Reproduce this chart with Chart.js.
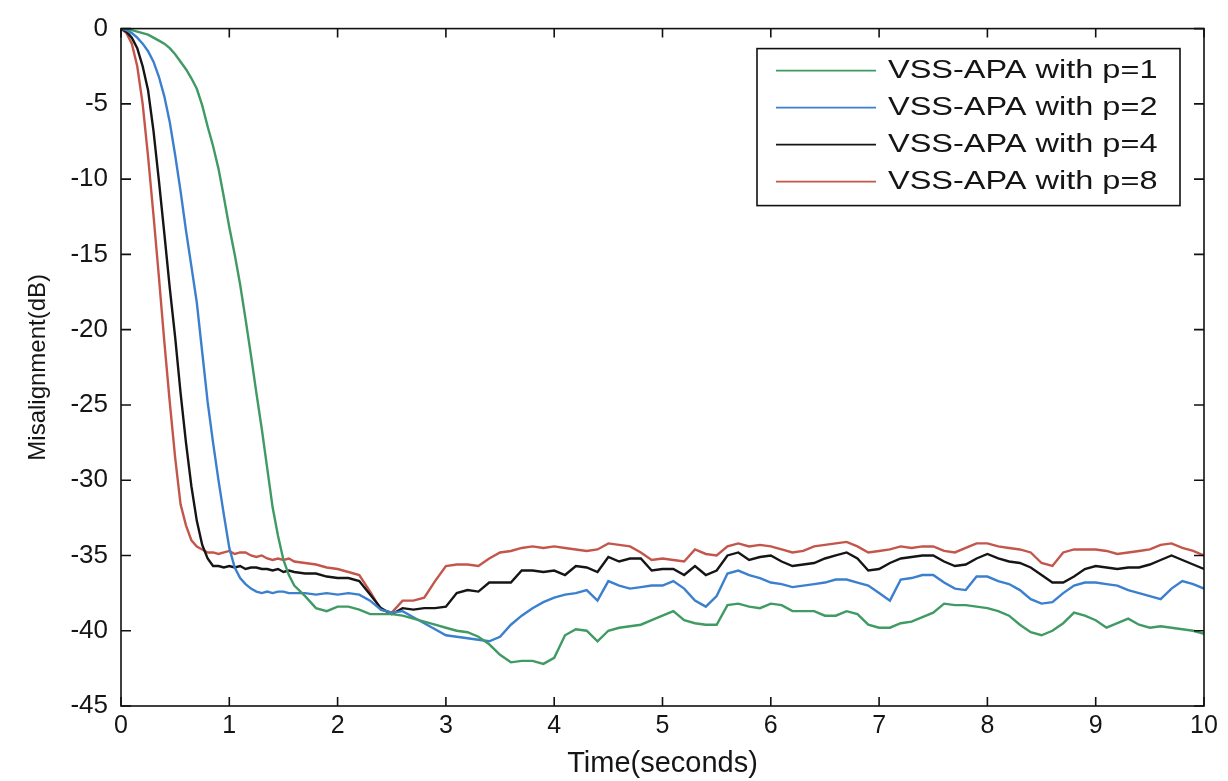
<!DOCTYPE html>
<html>
<head>
<meta charset="utf-8">
<title>Misalignment vs time</title>
<script src="https://cdn.jsdelivr.net/npm/chart.js@4.4.1/dist/chart.umd.min.js"></script>
<style>
  html, body { margin: 0; padding: 0; background: #fff; }
  #wrap { width: 1228px; height: 781px; }
</style>
</head>
<body>
<div id="wrap"><canvas id="chart" width="1228" height="781"></canvas></div>
<script>
// time axis (seconds)
const timeSec = [
  0, 0.05, 0.1, 0.15, 0.2, 0.25, 0.3, 0.35, 0.4, 0.45,
  0.5, 0.55, 0.6, 0.65, 0.7, 0.75, 0.8, 0.85, 0.9, 0.95,
  1.0, 1.05, 1.1, 1.15, 1.2, 1.25, 1.3, 1.35, 1.4, 1.45,
  1.5, 1.55, 1.6,
  1.7, 1.8, 1.9, 2.0, 2.1, 2.2, 2.3, 2.4, 2.5, 2.6,
  2.7, 2.8, 2.9, 3.0, 3.1, 3.2, 3.3, 3.4, 3.5, 3.6,
  3.7, 3.8, 3.9, 4.0, 4.1, 4.2, 4.3, 4.4, 4.5, 4.6,
  4.7, 4.8, 4.9, 5.0, 5.1, 5.2, 5.3, 5.4, 5.5, 5.6,
  5.7, 5.8, 5.9, 6.0, 6.1, 6.2, 6.3, 6.4, 6.5, 6.6,
  6.7, 6.8, 6.9, 7.0, 7.1, 7.2, 7.3, 7.4, 7.5, 7.6,
  7.7, 7.8, 7.9, 8.0, 8.1, 8.2, 8.3, 8.4, 8.5, 8.6,
  8.7, 8.8, 8.9, 9.0, 9.1, 9.2, 9.3, 9.4, 9.5, 9.6,
  9.7, 9.8, 9.9, 10.0
];

// misalignment in dB
const vssP1 = [
  0, 0, -0.1, -0.2, -0.3, -0.4, -0.6, -0.8, -1.0, -1.3,
  -1.7, -2.2, -2.7, -3.3, -4.0, -5.1, -6.5, -7.8, -9.3, -11.2,
  -13.2, -15.0, -17.0, -19.3, -21.7, -24.2, -26.6, -29.2, -31.8, -33.7,
  -35.3, -36.3, -37.0,
  -37.7, -38.5, -38.7, -38.4, -38.4, -38.6, -38.9, -38.9, -38.9, -39.0,
  -39.2, -39.4, -39.6, -39.8, -40.0, -40.1, -40.4, -40.9, -41.6, -42.1,
  -42.0, -42.0, -42.2, -41.8, -40.3, -39.9, -40.0, -40.7, -40.0, -39.8,
  -39.7, -39.6, -39.3, -39.0, -38.7, -39.3, -39.5, -39.6, -39.6, -38.3,
  -38.2, -38.4, -38.5, -38.2, -38.3, -38.7, -38.7, -38.7, -39.0, -39.0,
  -38.7, -38.9, -39.6, -39.8, -39.8, -39.5, -39.4, -39.1, -38.8, -38.2,
  -38.3, -38.3, -38.4, -38.5, -38.7, -39.0, -39.6, -40.1, -40.3, -40.0,
  -39.5, -38.8, -39.0, -39.3, -39.8, -39.5, -39.2, -39.6, -39.8, -39.7,
  -39.8, -39.9, -40.0, -40.2
];
const vssP2 = [
  0, -0.1, -0.3, -0.6, -1.0, -1.5, -2.2, -3.2, -4.5, -6.2,
  -8.4, -10.8, -13.4, -15.8, -18.2, -21.5, -24.8, -27.5, -30.0, -32.3,
  -34.5, -35.8, -36.5, -36.9, -37.2, -37.4, -37.5, -37.4, -37.5, -37.4,
  -37.4, -37.5, -37.5,
  -37.5, -37.6, -37.5, -37.6, -37.5, -37.6, -38.0, -38.6, -38.8, -38.7,
  -39.1, -39.5, -39.9, -40.3, -40.4, -40.5, -40.6, -40.7, -40.4, -39.6,
  -39.0, -38.5, -38.1, -37.8, -37.6, -37.5, -37.3, -38.0, -36.7, -37.0,
  -37.2, -37.1, -37.0, -37.0, -36.7, -37.2, -38.0, -38.4, -37.7, -36.2,
  -36.0, -36.3, -36.5, -36.8, -36.9, -37.1, -37.0, -36.9, -36.8, -36.6,
  -36.6, -36.8, -37.0, -37.5, -38.0, -36.6, -36.5, -36.3, -36.3, -36.8,
  -37.2, -37.3, -36.4, -36.4, -36.7, -36.9, -37.3, -37.9, -38.2, -38.1,
  -37.5, -37.0, -36.8, -36.8, -36.9, -37.0, -37.3, -37.5, -37.7, -37.9,
  -37.2, -36.7, -36.9, -37.2
];
const vssP4 = [
  0, -0.2, -0.6, -1.3, -2.5, -4.1, -6.8, -10.1, -13.6, -17.2,
  -20.5, -24.2, -27.5, -30.4, -32.7, -34.3, -35.2, -35.7, -35.7, -35.8,
  -35.7, -35.8, -35.7, -35.9, -35.8, -35.8, -35.9, -35.9, -36.0, -35.9,
  -36.1, -36.0, -36.1,
  -36.2, -36.2, -36.4, -36.5, -36.5, -36.7, -37.6, -38.5, -38.9, -38.5,
  -38.6, -38.5, -38.5, -38.4, -37.5, -37.3, -37.4, -36.8, -36.8, -36.8,
  -36.0, -36.0, -36.1, -36.0, -36.3, -35.7, -35.8, -36.1, -35.1, -35.4,
  -35.2, -35.2, -36.0, -35.9, -35.9, -36.3, -35.7, -36.3, -36.0, -35.0,
  -34.8, -35.3, -35.1, -35.0, -35.4, -35.7, -35.6, -35.5, -35.2, -35.0,
  -34.8, -35.2, -36.0, -35.9, -35.5, -35.2, -35.1, -35.0, -35.0, -35.4,
  -35.7, -35.6, -35.2, -34.9, -35.2, -35.4, -35.5, -35.8, -36.3, -36.8,
  -36.8, -36.4, -35.9, -35.7, -35.8, -35.9, -35.8, -35.8, -35.6, -35.3,
  -35.0, -35.3, -35.6, -35.9
];
const vssP8 = [
  0, -0.3, -1.0, -2.5, -5.0, -8.5, -12.4, -16.5, -20.8, -24.8,
  -28.5, -31.6, -33.0, -34.0, -34.4, -34.6, -34.8, -34.8, -34.9, -34.8,
  -34.7, -34.9, -34.8, -34.8, -35.0, -35.1, -35.0, -35.2, -35.3, -35.2,
  -35.3, -35.2, -35.4,
  -35.5, -35.6, -35.8, -35.9, -36.1, -36.3, -37.4, -38.6, -38.8, -38.0,
  -38.0, -37.8, -36.7, -35.7, -35.6, -35.6, -35.7, -35.2, -34.8, -34.7,
  -34.5, -34.4, -34.5, -34.4, -34.5, -34.6, -34.7, -34.6, -34.2, -34.3,
  -34.4, -34.8, -35.3, -35.2, -35.3, -35.4, -34.6, -34.9, -35.0, -34.4,
  -34.2, -34.4, -34.3, -34.4, -34.6, -34.8, -34.7, -34.4, -34.3, -34.2,
  -34.1, -34.4, -34.8, -34.7, -34.6, -34.4, -34.5, -34.4, -34.4, -34.7,
  -34.8, -34.5, -34.2, -34.2, -34.4, -34.5, -34.6, -34.8, -35.5, -35.7,
  -34.8, -34.6, -34.6, -34.6, -34.7, -34.9, -34.8, -34.7, -34.6, -34.3,
  -34.2, -34.5, -34.7, -35.0
];

const seriesLabels = ["VSS-APA with p=1", "VSS-APA with p=2", "VSS-APA with p=4", "VSS-APA with p=8"];
const seriesColors = ["#3f9a63", "#3b7fcf", "#151515", "#c4554b"];
const xTicks = [0, 1, 2, 3, 4, 5, 6, 7, 8, 9, 10];
const yTicks = [0, -5, -10, -15, -20, -25, -30, -35, -40, -45];

const toPoints = vals => vals.map((v, i) => ({ x: timeSec[i], y: v }));

const framePlugin = {
  id: "frame",
  afterDatasetsDraw(chart) {
    const { ctx, chartArea: a, scales } = chart;
    ctx.save();
    ctx.strokeStyle = "#111";
    ctx.lineWidth = 1.6;
    ctx.strokeRect(a.left, a.top, a.right - a.left, a.bottom - a.top);

    // inward ticks on all four sides
    ctx.beginPath();
    xTicks.forEach(v => {
      const px = scales.x.getPixelForValue(v);
      ctx.moveTo(px, a.bottom); ctx.lineTo(px, a.bottom - 9);
      ctx.moveTo(px, a.top); ctx.lineTo(px, a.top + 9);
    });
    yTicks.forEach(v => {
      const py = scales.y.getPixelForValue(v);
      ctx.moveTo(a.left, py); ctx.lineTo(a.left + 10, py);
      ctx.moveTo(a.right, py); ctx.lineTo(a.right - 10, py);
    });
    ctx.stroke();

    // legend box, top right
    const bx = a.right - 447, by = a.top + 20, bw = 423, bh = 157;
    ctx.fillStyle = "#fff";
    ctx.fillRect(bx, by, bw, bh);
    ctx.strokeRect(bx, by, bw, bh);
    ctx.font = "25px 'Liberation Sans', Arial, sans-serif";
    ctx.textBaseline = "middle";
    seriesLabels.forEach((lbl, i) => {
      const ly = by + 22 + i * 37;
      ctx.strokeStyle = seriesColors[i];
      ctx.lineWidth = 1.6;
      ctx.beginPath();
      ctx.moveTo(bx + 19, ly); ctx.lineTo(bx + 119, ly);
      ctx.stroke();
      ctx.save();
      ctx.translate(bx + 131, ly + 1);
      ctx.scale(1.3, 1);
      ctx.fillStyle = "#151515";
      ctx.fillText(lbl, 0, 0);
      ctx.restore();
    });
    ctx.restore();
  }
};

new Chart(document.getElementById("chart"), {
  type: "line",
  data: {
    datasets: [vssP1, vssP2, vssP4, vssP8].map((vals, i) => ({
      label: seriesLabels[i],
      data: toPoints(vals),
      borderColor: seriesColors[i],
      backgroundColor: seriesColors[i],
      borderWidth: 2.4,
      pointRadius: 0,
      tension: 0,
      fill: false
    }))
  },
  options: {
    responsive: false,
    animation: false,
    devicePixelRatio: 1,
    layout: { padding: { top: 23, right: 24, bottom: 0, left: 0 } },
    plugins: {
      legend: { display: false },
      tooltip: { enabled: false }
    },
    scales: {
      x: {
        type: "linear",
        min: 0,
        max: 10,
        afterFit: s => { s.height = 75; },
        afterBuildTicks: s => { s.ticks = xTicks.map(v => ({ value: v })); },
        grid: { display: false, drawTicks: false },
        border: { display: false },
        ticks: {
          padding: 5,
          color: "#151515",
          font: { family: "'Liberation Sans', Arial, sans-serif", size: 25 },
          maxRotation: 0
        },
        title: {
          display: true,
          text: "Time(seconds)",
          color: "#151515",
          padding: { top: 0, bottom: 0 },
          font: { family: "'Liberation Sans', Arial, sans-serif", size: 29 }
        }
      },
      y: {
        min: -45,
        max: 0,
        afterFit: s => { s.width = 121; },
        afterBuildTicks: s => { s.ticks = yTicks.map(v => ({ value: v })); },
        grid: { display: false, drawTicks: false },
        border: { display: false },
        ticks: {
          padding: 13,
          color: "#151515",
          font: { family: "'Liberation Sans', Arial, sans-serif", size: 26 }
        },
        title: {
          display: true,
          text: "Misalignment(dB)",
          color: "#151515",
          padding: { top: 24, bottom: 0 },
          font: { family: "'Liberation Sans', Arial, sans-serif", size: 24 }
        }
      }
    }
  },
  plugins: [framePlugin]
});
</script>
</body>
</html>
